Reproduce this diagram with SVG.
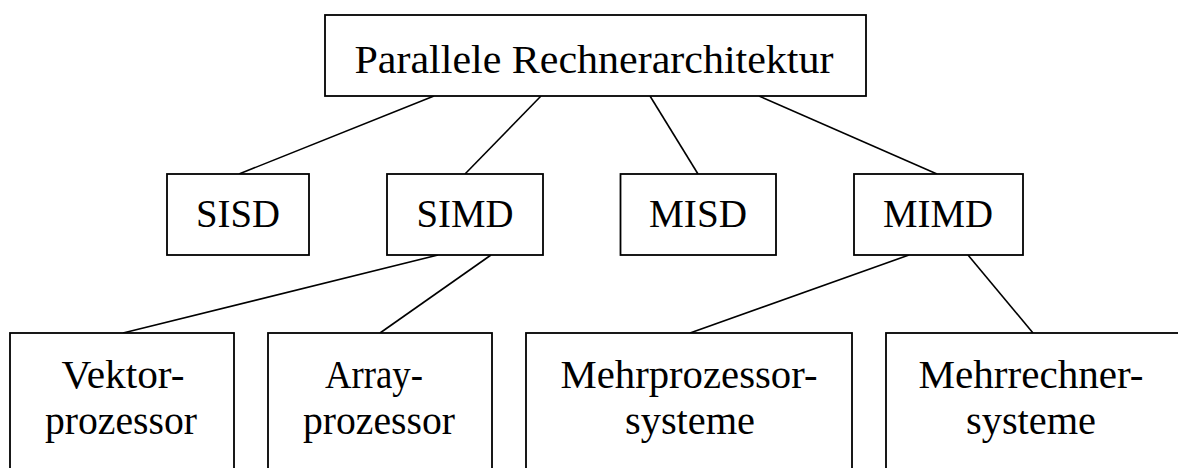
<svg xmlns="http://www.w3.org/2000/svg" width="1178" height="468" viewBox="0 0 1178 468">
<style>
.box{fill:#fff;stroke:#000;stroke-width:1.8}
.edge{stroke:#000;stroke-width:1.6;fill:none}
text{font-family:"Liberation Serif","DejaVu Serif",serif;font-size:40px;fill:#000;text-anchor:middle}
</style>
<rect width="1178" height="468" fill="#fff"/>
<g id="connectors">
<line class="edge" x1="434" y1="96" x2="239" y2="174"/>
<line class="edge" x1="541" y1="96" x2="465" y2="174"/>
<line class="edge" x1="650" y1="96" x2="698" y2="174"/>
<line class="edge" x1="759" y1="96" x2="937" y2="174"/>
<line class="edge" x1="438" y1="255" x2="123" y2="333"/>
<line class="edge" x1="491" y1="255" x2="380" y2="333"/>
<line class="edge" x1="909" y1="255" x2="690" y2="333"/>
<line class="edge" x1="968" y1="255" x2="1033" y2="333"/>
</g>
<g id="root">
<rect class="box" x="325" y="15" width="541" height="81"/>
<text x="594" y="73" textLength="479" lengthAdjust="spacingAndGlyphs">Parallele Rechnerarchitektur</text>
</g>
<g id="sisd">
<rect class="box" x="167" y="174" width="142" height="81"/>
<text x="238" y="227" textLength="84" lengthAdjust="spacingAndGlyphs">SISD</text>
</g>
<g id="simd">
<rect class="box" x="387" y="174" width="156" height="81"/>
<text x="465" y="227" textLength="97" lengthAdjust="spacingAndGlyphs">SIMD</text>
</g>
<g id="misd">
<rect class="box" x="620.5" y="174" width="155.5" height="81"/>
<text x="698" y="227" textLength="98" lengthAdjust="spacingAndGlyphs">MISD</text>
</g>
<g id="mimd">
<rect class="box" x="854" y="174" width="169" height="81"/>
<text x="938" y="227" textLength="110" lengthAdjust="spacingAndGlyphs">MIMD</text>
</g>
<g id="vektor">
<rect class="box" x="10" y="333" width="224" height="150"/>
<text x="123" y="388" textLength="123" lengthAdjust="spacingAndGlyphs">Vektor-</text>
<text x="121" y="434" textLength="152" lengthAdjust="spacingAndGlyphs">prozessor</text>
</g>
<g id="array">
<rect class="box" x="268" y="333" width="224" height="150"/>
<text x="374" y="388" textLength="98" lengthAdjust="spacingAndGlyphs">Array-</text>
<text x="379" y="434" textLength="152" lengthAdjust="spacingAndGlyphs">prozessor</text>
</g>
<g id="mehrprozessor">
<rect class="box" x="526" y="333" width="326" height="150"/>
<text x="689" y="388" textLength="257" lengthAdjust="spacingAndGlyphs">Mehrprozessor-</text>
<text x="690" y="434" textLength="130" lengthAdjust="spacingAndGlyphs">systeme</text>
</g>
<g id="mehrrechner">
<rect class="box" x="886" y="333" width="300" height="150"/>
<text x="1031" y="388" textLength="225" lengthAdjust="spacingAndGlyphs">Mehrrechner-</text>
<text x="1031" y="434" textLength="130" lengthAdjust="spacingAndGlyphs">systeme</text>
</g>
</svg>
